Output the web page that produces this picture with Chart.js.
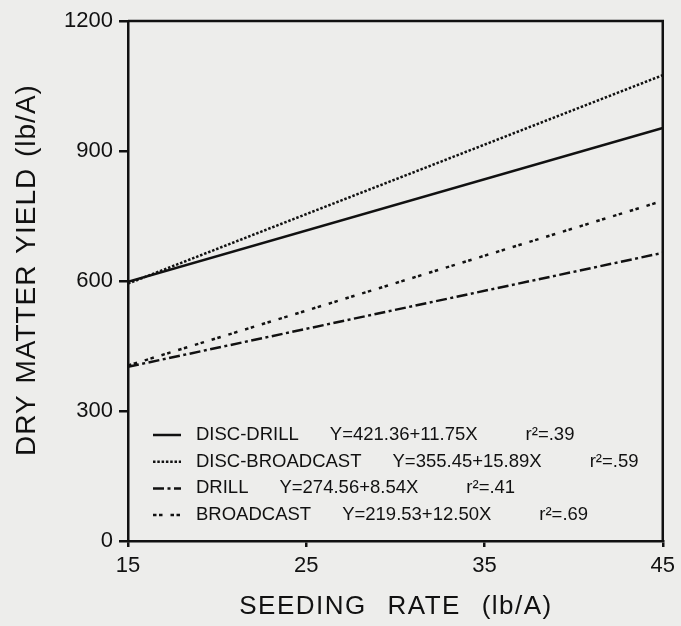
<!DOCTYPE html>
<html>
<head>
<meta charset="utf-8">
<script src="https://cdn.jsdelivr.net/npm/chart.js@4.4.1/dist/chart.umd.min.js"></script>
<style>
  html, body { margin: 0; padding: 0; background: #ededeb; }
  #wrap { width: 681px; height: 626px; }
</style>
</head>
<body>
<div id="wrap"><canvas id="chart" width="681" height="626"></canvas></div>
<script>
// values (end points of the fitted lines)
var seedingRates = [15, 45];
var discDrill = [598, 953];
var discBroadcast = [594, 1075];
var drill = [402, 665];
var broadcast = [405, 785];

// tick labels
var xTicks = [15, 25, 35, 45];
var yTicks = [0, 300, 600, 900, 1200];

// legend text
var seriesNames = ['DISC-DRILL', 'DISC-BROADCAST', 'DRILL', 'BROADCAST'];
var equations = ['Y=421.36+11.75X', 'Y=355.45+15.89X', 'Y=274.56+8.54X', 'Y=219.53+12.50X'];
var rSquared = ['.39', '.59', '.41', '.69'];

var INK = '#111111';
var FONT = '"Liberation Sans", Arial, sans-serif';

function toPoints(ys) {
	return seedingRates.map(function (x, i) { return {x: x, y: ys[i]}; });
}

function lineSet(label, ys, dash) {
	return {
		label: label,
		data: toPoints(ys),
		borderColor: INK,
		borderWidth: 2.5,
		borderDash: dash,
		pointRadius: 0,
		fill: false,
		tension: 0
	};
}

//Frame on top and right, axis titles and the in-plot legend
var extras = {
	id: 'extras',
	afterDraw: function (chart) {
		var ctx = chart.ctx;
		var a = chart.chartArea;
		ctx.save();
		ctx.strokeStyle = INK;
		ctx.lineWidth = 2.5;
		ctx.beginPath();
		ctx.moveTo(a.left, a.top);
		ctx.lineTo(a.right, a.top);
		ctx.lineTo(a.right, a.bottom);
		ctx.stroke();

		ctx.fillStyle = INK;
		ctx.textAlign = 'center';
		ctx.textBaseline = 'middle';

		// x title
		ctx.font = '26px ' + FONT;
		ctx.letterSpacing = '1.5px';
		ctx.wordSpacing = '12px';
		ctx.fillText('SEEDING RATE (lb/A)', 396, 607);

		// y title
		ctx.save();
		ctx.translate(27, 270);
		ctx.rotate(-Math.PI / 2);
		ctx.font = '28px ' + FONT;
		ctx.letterSpacing = '1px';
		ctx.wordSpacing = '2px';
		ctx.fillText('DRY MATTER YIELD (lb/A)', 0, 0);
		ctx.restore();

		// legend
		ctx.letterSpacing = '0px';
		ctx.wordSpacing = '0px';
		ctx.font = '18.5px ' + FONT;
		ctx.textAlign = 'left';
		for (var i = 0; i < seriesNames.length; i++) {
			var y = 435 + i * 26.7;
			var ds = chart.data.datasets[i];
			ctx.beginPath();
			ctx.setLineDash(ds.borderDash || []);
			ctx.lineWidth = 2.5;
			ctx.moveTo(153, y);
			ctx.lineTo(181, y);
			ctx.stroke();
			ctx.setLineDash([]);
			var x = 196;
			ctx.fillText(seriesNames[i], x, y);
			x += ctx.measureText(seriesNames[i]).width + 31;
			ctx.fillText(equations[i], x, y);
			x += ctx.measureText(equations[i]).width + 48;
			ctx.fillText('r\u00b2=' + rSquared[i], x, y);
		}
		ctx.restore();
	}
};

var chart = new Chart(document.getElementById('chart'), {
	type: 'line',
	data: {
		datasets: [
			lineSet(seriesNames[0], discDrill, []),
			lineSet(seriesNames[1], discBroadcast, [2.5, 1.8]),
			lineSet(seriesNames[2], drill, [11, 3.5, 3, 3.5]),
			lineSet(seriesNames[3], broadcast, [3.5, 2.5, 3.5, 8])
		]
	},
	options: {
		responsive: false,
		devicePixelRatio: 1,
		animation: false,
		layout: {padding: {top: 21, right: 15, left: 0, bottom: 0}},
		plugins: {
			legend: {display: false},
			tooltip: {enabled: false}
		},
		scales: {
			x: {
				type: 'linear',
				min: xTicks[0],
				max: xTicks[xTicks.length - 1],
				afterBuildTicks: function (s) { s.ticks = xTicks.map(function (v) { return {value: v}; }); },
				afterFit: function (s) { s.height = 85; },
				grid: {drawOnChartArea: false, drawTicks: true, tickLength: 6, color: INK, lineWidth: 2.5},
				border: {color: INK, width: 2.5},
				ticks: {color: INK, padding: 6, maxRotation: 0, font: {family: FONT, size: 22},
					callback: function (v) { return String(v); }}
			},
			y: {
				min: yTicks[0],
				max: yTicks[yTicks.length - 1],
				afterBuildTicks: function (s) { s.ticks = yTicks.map(function (v) { return {value: v}; }); },
				afterFit: function (s) { s.width = 128; },
				grid: {drawOnChartArea: false, drawTicks: true, tickLength: 9, color: INK, lineWidth: 2.5},
				border: {color: INK, width: 2.5},
				ticks: {color: INK, padding: 6, font: {family: FONT, size: 22},
					callback: function (v) { return String(v); }}
			}
		}
	},
	plugins: [extras]
});
</script>
</body>
</html>
